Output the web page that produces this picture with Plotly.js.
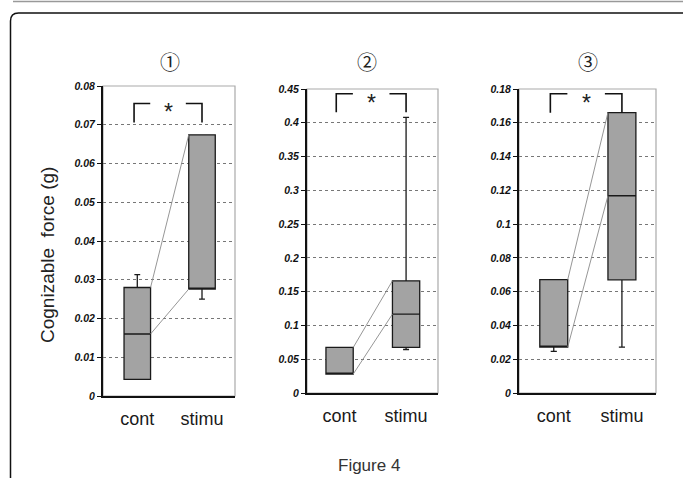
<!DOCTYPE html>
<html><head><meta charset="utf-8">
<script src="https://cdn.plot.ly/plotly-3.0.1.min.js"></script>
<style>html,body{margin:0;padding:0;background:#fff}#chart{width:683px;height:478px}</style>
</head><body><div id="chart"></div>
<script>
// ---- data ----
const categories = ["cont", "stimu"];
const panelTitles = ["①", "②", "③"];
const q1Vals      = [[0.0043, 0.0276], [0.028, 0.0674], [0.0272, 0.067]];
const medianVals  = [[0.016, 0.0276],  [0.028, 0.1167], [0.0272, 0.1168]];
const q3Vals      = [[0.028, 0.0674],  [0.0674, 0.166], [0.0671, 0.166]];
const lowerVals   = [[0.0043, 0.025],  [0.028, 0.0644], [0.0246, 0.0272]];
const upperVals   = [[0.0313, 0.0674], [0.0674, 0.408], [0.0671, 0.166]];
const yMax        = [0.08, 0.45, 0.18];
const yDtick      = [0.01, 0.05, 0.02];
const bracketTop  = [0.0755, 0.443, 0.1772];
const bracketEnd  = [0.0706, 0.4155, 0.166];
const sigLabel    = "*";
const yTitle      = "Cognizable\u00a0 force (g)";
const caption     = "Figure 4";

// ---- layout geometry ----
const W = 683, H = 478;
const px = v => v / W, py = v => 1 - v / H;
const plotBox = [ // [left, right, top, bottom] in px
  [103, 235, 86, 396],
  [307, 438, 89, 393],
  [519, 656, 89, 393]
];
const xRanges = [[-0.53, 1.51], [-0.49, 1.48], [-0.51, 1.5]];
const tickFam = ["Liberation Sans, Arial, sans-serif",
                 "Liberation Sans Narrow, Arial Narrow, Liberation Sans, sans-serif",
                 "Liberation Sans, Arial, sans-serif"];
const boxW = 0.41;
const xPos = [0, 1];

const traces = [];
const layout = {
  width: W, height: H, margin: {l: 0, r: 0, t: 0, b: 0, pad: 0, autoexpand: false},
  paper_bgcolor: "#fff", plot_bgcolor: "#fff", showlegend: false,
  font: {family: "Liberation Sans, Arial, sans-serif", color: "#222"},
  shapes: [], annotations: []
};

for (let i = 0; i < 3; i++) {
  const xa = "x" + (i ? i + 1 : ""), ya = "y" + (i ? i + 1 : "");
  const xk = "xaxis" + (i ? i + 1 : ""), yk = "yaxis" + (i ? i + 1 : "");
  const [L, R, T, B] = plotBox[i];
  layout[xk] = {
    domain: [px(L), px(R)], range: xRanges[i], anchor: ya, automargin: false,
    tickmode: "array", tickvals: xPos, ticktext: categories,
    ticks: "outside", ticklen: 5, tickcolor: "rgba(0,0,0,0)",
    tickfont: {size: 18, color: "#1a1a1a", family: "Liberation Sans, Arial, sans-serif"},
    showline: true, linecolor: "#111", linewidth: 2, showgrid: false, zeroline: false, fixedrange: true
  };
  layout[yk] = {
    domain: [py(B), py(T)], range: [0, yMax[i]], anchor: xa, automargin: false,
    dtick: yDtick[i], tick0: 0, ticks: "outside", ticklen: 4, tickwidth: 1, tickcolor: "#111",
    tickfont: {size: 10.5, color: "#111", family: tickFam[i], weight: "bold", style: "italic"},
    showline: true, linecolor: "#111", linewidth: 2,
    showgrid: true, gridcolor: "#777", gridwidth: 1, griddash: "dot", zeroline: false, fixedrange: true
  };
  // grey frame (top/right)
  layout.shapes.push({type: "rect", xref: xa + " domain", yref: ya + " domain",
    x0: 0, x1: 1, y0: 0, y1: 1, line: {color: "#aaa", width: 1.2}, layer: "below"});

  // connecting lines (median-to-median, q3-to-q3)
  [medianVals[i], q3Vals[i]].forEach(v => {
    traces.push({type: "scatter", mode: "lines", xaxis: xa, yaxis: ya,
      x: [xPos[0] + boxW / 2, xPos[1] - boxW / 2], y: [v[0], v[1]],
      line: {color: "#8a8a8a", width: 0.9}, hoverinfo: "skip"});
  });

  // box plot
  traces.push({type: "box", xaxis: xa, yaxis: ya, x: xPos,
    q1: q1Vals[i], median: medianVals[i], q3: q3Vals[i],
    lowerfence: lowerVals[i], upperfence: upperVals[i],
    width: boxW, whiskerwidth: 0.22, boxpoints: false,
    fillcolor: "#a3a3a3", line: {color: "#1a1a1a", width: 1.3}});

  // significance bracket
  const bl = -0.05, br = 1.0, gl = 0.2, gr = 0.75;
  traces.push({type: "scatter", mode: "lines", xaxis: xa, yaxis: ya,
    x: [bl, bl, gl, null, gr, br, br],
    y: [bracketEnd[i], bracketTop[i], bracketTop[i], null, bracketTop[i], bracketTop[i], bracketEnd[i]],
    line: {color: "#111", width: 1.6}, hoverinfo: "skip", connectgaps: false});
  layout.annotations.push({xref: xa, yref: ya, x: (gl + gr) / 2, y: bracketTop[i],
    text: sigLabel, showarrow: false, xanchor: "center", yanchor: "middle", yshift: -9,
    font: {size: 23, color: "#222", family: "Liberation Sans, Arial, sans-serif"}});
}

// panel titles
const titleX = [170, 367, 588];
panelTitles.forEach((t, i) => layout.annotations.push({xref: "paper", yref: "paper",
  x: px(titleX[i]), y: py(62), text: t, showarrow: false, xanchor: "center", yanchor: "middle",
  font: {size: 20, color: "#222", family: "Noto Sans CJK JP, DejaVu Sans, sans-serif"}}));

// y title
layout.annotations.push({xref: "paper", yref: "paper", x: px(47), y: py(255),
  text: yTitle, textangle: -90, showarrow: false, xanchor: "center", yanchor: "middle",
  font: {size: 19, color: "#222", family: "Liberation Sans, Arial, sans-serif"}});

// caption
layout.annotations.push({xref: "paper", yref: "paper", x: px(369), y: py(465),
  text: caption, showarrow: false, xanchor: "center", yanchor: "middle",
  font: {size: 17, color: "#333", family: "Liberation Sans, Arial, sans-serif"}});

// outer frame (rounded) and top rule
const fx = px(10.5), fy = py(13), rx = 8 / W, ry = 8 / H;
layout.shapes.push({type: "path", xref: "paper", yref: "paper",
  path: `M ${fx} -0.05 L ${fx} ${fy - ry} Q ${fx} ${fy} ${fx + rx} ${fy} L 1.05 ${fy}`,
  line: {color: "#111", width: 1.5}});
layout.shapes.push({type: "line", xref: "paper", yref: "paper",
  x0: px(13), x1: 1, y0: py(1.5), y1: py(1.5), line: {color: "#999", width: 1.5}});

Plotly.newPlot("chart", traces, layout, {staticPlot: true, displayModeBar: false});
</script></body></html>
